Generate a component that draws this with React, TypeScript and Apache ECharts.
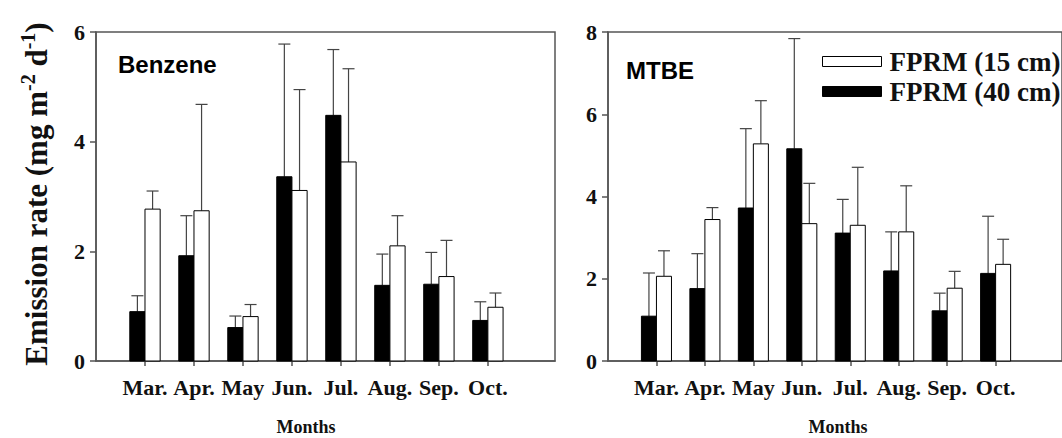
import React, { useEffect, useRef } from "react";
import * as echarts from "echarts";

const months = ["Mar.", "Apr.", "May", "Jun.", "Jul.", "Aug.", "Sep.", "Oct."];
const positions = [1, 2, 3, 4, 5, 6, 7, 8];
const seriesNames = ["FPRM (15 cm)", "FPRM (40 cm)"];

// Benzene panel
const benzene40 = [0.9, 1.92, 0.61, 3.36, 4.48, 1.38, 1.4, 0.74];
const benzene40Err = [0.29, 0.73, 0.21, 2.42, 1.2, 0.57, 0.58, 0.34];
const benzene15 = [2.77, 2.74, 0.81, 3.11, 3.63, 2.1, 1.54, 0.98];
const benzene15Err = [0.33, 1.94, 0.22, 1.84, 1.7, 0.55, 0.66, 0.26];

// MTBE panel
const mtbe40 = [1.09, 1.76, 3.72, 5.16, 3.11, 2.19, 1.22, 2.13];
const mtbe40Err = [1.05, 0.85, 1.93, 2.68, 0.82, 0.95, 0.43, 1.39];
const mtbe15 = [2.06, 3.44, 5.28, 3.34, 3.3, 3.14, 1.77, 2.35];
const mtbe15Err = [0.62, 0.29, 1.05, 0.98, 1.41, 1.12, 0.41, 0.61];

const yTicksBenzene = { min: 0, max: 6, interval: 2 };
const yTicksMtbe = { min: 0, max: 8, interval: 2 };
const xRange = { min: 0, max: 9.37 };

const SERIF = "'Liberation Serif', 'Times New Roman', serif";
const SANS = "'Liberation Sans', Arial, sans-serif";

function buildData(vals: number[], errs: number[]) {
  return positions.map((p, i) => [p, vals[i], vals[i] + errs[i]]);
}

function makeSeries(
  name: string,
  idx: number,
  vals: number[],
  errs: number[],
  side: "left" | "right",
  fill: string
) {
  return {
    type: "custom",
    name,
    xAxisIndex: idx,
    yAxisIndex: idx,
    itemStyle: { color: fill, borderColor: "#000", borderWidth: 1 },
    encode: { x: 0, y: 1 },
    data: buildData(vals, errs),
    renderItem: (params: any, api: any) => {
      const x = api.value(0);
      const v = api.value(1);
      const e = api.value(2);
      const base = api.coord([x, 0]);
      const top = api.coord([x, v]);
      const errTop = api.coord([x, e]);
      const w = api.size([1, 0])[0] * 0.31;
      const left = side === "left" ? base[0] - w : base[0];
      const cx = left + w / 2;
      const cap = 6;
      return {
        type: "group",
        children: [
          {
            type: "line",
            shape: { x1: cx, y1: top[1], x2: cx, y2: errTop[1] },
            style: { stroke: "#444", lineWidth: 1.2 },
          },
          {
            type: "line",
            shape: { x1: cx - cap, y1: errTop[1], x2: cx + cap, y2: errTop[1] },
            style: { stroke: "#444", lineWidth: 1.2 },
          },
          {
            type: "rect",
            shape: { x: left, y: top[1], width: w, height: base[1] - top[1] },
            style: { fill, stroke: "#000", lineWidth: 1 },
          },
        ],
      };
    },
  };
}

export default function App() {
  const ref = useRef<HTMLDivElement>(null);

  useEffect(() => {
    if (!ref.current) return;
    const chart = echarts.init(ref.current, undefined, { renderer: "svg" });

    const axisLine = { show: true, lineStyle: { color: "#555", width: 1.5 } };
    const xAxis = (gridIndex: number) => ({
      type: "value",
      gridIndex,
      min: xRange.min,
      max: xRange.max,
      interval: 1,
      axisLine,
      splitLine: { show: false },
      axisTick: {
        show: true,
        customValues: positions,
        length: 5,
        inside: false,
        lineStyle: { color: "#555", width: 1.5 },
      },
      axisLabel: {
        customValues: positions,
        formatter: (val: number) => months[Math.round(val) - 1] ?? "",
        fontFamily: SERIF,
        fontWeight: "bold",
        fontSize: 22,
        color: "#111",
        margin: 15,
      },
    });
    const yAxis = (gridIndex: number, t: { min: number; max: number; interval: number }) => ({
      type: "value",
      gridIndex,
      min: t.min,
      max: t.max,
      interval: t.interval,
      axisLine,
      splitLine: { show: false },
      axisTick: { show: true, length: 6, lineStyle: { color: "#555", width: 1.5 } },
      axisLabel: {
        fontFamily: SERIF,
        fontWeight: "bold",
        fontSize: 22,
        color: "#111",
        margin: 11,
      },
    });

    const option: any = {
      animation: false,
      backgroundColor: "#fff",
      grid: [
        { left: 96, top: 32, width: 459, height: 329, show: true, borderColor: "#555", borderWidth: 1.5, backgroundColor: "transparent" },
        { left: 608, top: 32, width: 474, height: 329, show: true, borderColor: "#555", borderWidth: 1.5, backgroundColor: "transparent" },
      ],
      xAxis: [xAxis(0), xAxis(1)],
      yAxis: [yAxis(0, yTicksBenzene), yAxis(1, yTicksMtbe)],
      legend: {
        orient: "vertical",
        left: 817,
        top: 43,
        icon: "rect",
        itemWidth: 59,
        itemHeight: 10,
        itemGap: 3,
        selectedMode: false,
        textStyle: { fontFamily: SERIF, fontWeight: "bold", fontSize: 27, color: "#111", padding: [5, 0, 0, 3] },
        data: [
          { name: seriesNames[0], itemStyle: { color: "#fff", borderColor: "#000", borderWidth: 1 } },
          { name: seriesNames[1], itemStyle: { color: "#000", borderColor: "#000", borderWidth: 1 } },
        ],
      },
      graphic: [
        {
          type: "text",
          x: 36,
          y: 194,
          rotation: Math.PI / 2,
          style: {
            text: "Emission rate (mg m{sup|-2} d{sup|-1})",
            fontFamily: SERIF,
            fontWeight: "bold",
            fontSize: 31,
            fill: "#111",
            align: "center",
            verticalAlign: "middle",
            rich: {
              sup: { fontFamily: SERIF, fontWeight: "bold", fontSize: 20, verticalAlign: "top", lineHeight: 36, fill: "#111" },
            },
          },
        },
        {
          type: "text",
          x: 306,
          y: 427,
          style: { text: "Months", fontFamily: SERIF, fontWeight: "bold", fontSize: 18, fill: "#111", align: "center", verticalAlign: "middle" },
        },
        {
          type: "text",
          x: 838,
          y: 427,
          style: { text: "Months", fontFamily: SERIF, fontWeight: "bold", fontSize: 18, fill: "#111", align: "center", verticalAlign: "middle" },
        },
        {
          type: "text",
          x: 118,
          y: 64,
          style: { text: "Benzene", fontFamily: SANS, fontWeight: "bold", fontSize: 24, fill: "#000", align: "left", verticalAlign: "middle" },
        },
        {
          type: "text",
          x: 626,
          y: 70,
          style: { text: "MTBE", fontFamily: SANS, fontWeight: "bold", fontSize: 24, fill: "#000", align: "left", verticalAlign: "middle" },
        },
      ],
      series: [
        makeSeries(seriesNames[1], 0, benzene40, benzene40Err, "left", "#000"),
        makeSeries(seriesNames[0], 0, benzene15, benzene15Err, "right", "#fff"),
        makeSeries(seriesNames[1], 1, mtbe40, mtbe40Err, "left", "#000"),
        makeSeries(seriesNames[0], 1, mtbe15, mtbe15Err, "right", "#fff"),
      ],
    };

    chart.setOption(option);
    return () => chart.dispose();
  }, []);

  return (
    <div
      ref={ref}
      style={{ position: "fixed", left: 0, top: 0, width: 1062, height: 438, background: "#fff" }}
    />
  );
}
